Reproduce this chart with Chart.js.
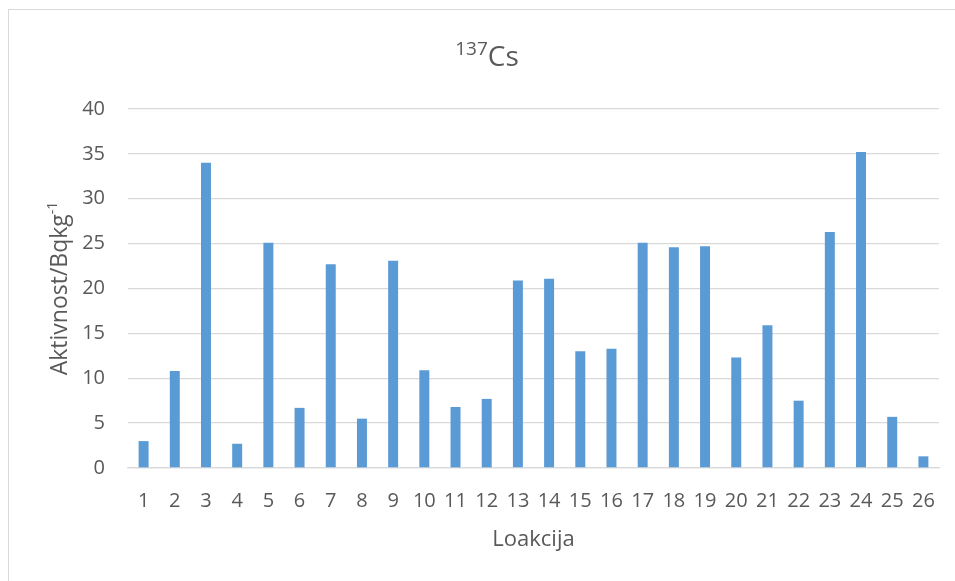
<!DOCTYPE html>
<html>
<head>
<meta charset="utf-8">
<script src="https://cdn.jsdelivr.net/npm/chart.js@4.4.1/dist/chart.umd.min.js"></script>
<style>
    html, body { margin: 0; padding: 0; background: #fff; }
    #wrap { position: relative; width: 955px; height: 581px; }
</style>
</head>
<body>
<div id="wrap"><canvas id="chartCs"></canvas></div>
<script>
// Data
const locations = ['1', '2', '3', '4', '5', '6', '7', '8', '9', '10', '11', '12', '13',
    '14', '15', '16', '17', '18', '19', '20', '21', '22', '23', '24', '25', '26'];
const activity = [3.0, 10.8, 34.0, 2.7, 25.1, 6.7, 22.7, 5.5, 23.1, 10.9, 6.8, 7.7, 20.9,
    21.1, 13.0, 13.3, 25.1, 24.6, 24.7, 12.3, 15.9, 7.5, 26.3, 35.2, 5.7, 1.3];
const yTicks = [0, 5, 10, 15, 20, 25, 30, 35, 40];

const textColor = '#595959';
const gridColor = '#d9d9d9';
const fontName = "'Open Sans', sans-serif";

// Draw the frame, the title and the axis titles (they carry superscripts)
const decorations = {
    id: 'decorations',
    beforeDraw: (chart) => {
        const ctx = chart.ctx;
        ctx.save();
        ctx.fillStyle = '#ffffff';
        ctx.fillRect(0, 0, chart.width, chart.height);
        ctx.strokeStyle = gridColor;
        ctx.lineWidth = 1;
        ctx.strokeRect(8.5, 9.5, 2000, 2000);
        ctx.restore();
    },
    afterDraw: (chart) => {
        const ctx = chart.ctx;
        const area = chart.chartArea;
        ctx.save();
        ctx.fillStyle = textColor;
        ctx.textBaseline = 'alphabetic';

        // title: 137Cs
        const supFont = '19px ' + fontName;
        const mainFont = '28px ' + fontName;
        ctx.font = supFont;
        const wSup = ctx.measureText('137').width;
        ctx.font = mainFont;
        const wMain = ctx.measureText('Cs').width;
        let x = 487 - (wSup + wMain) / 2;
        ctx.textAlign = 'left';
        ctx.font = supFont;
        ctx.fillText('137', x, 55);
        ctx.font = mainFont;
        ctx.fillText('Cs', x + wSup, 66);

        // x axis title
        ctx.font = '22px ' + fontName;
        ctx.textAlign = 'center';
        ctx.fillText('Loakcija', (area.left + area.right) / 2, 546);

        // y axis title, rotated
        ctx.translate(67, (area.top + area.bottom) / 2);
        ctx.rotate(-Math.PI / 2);
        const yFont = '23px ' + fontName;
        const ySupFont = '14px ' + fontName;
        ctx.font = yFont;
        const wy = ctx.measureText('Aktivnost/Bqkg').width;
        ctx.font = ySupFont;
        const wys = ctx.measureText('-1').width;
        let sx = -(wy + wys) / 2;
        ctx.textAlign = 'left';
        ctx.font = yFont;
        ctx.fillText('Aktivnost/Bqkg', sx, 0);
        ctx.font = ySupFont;
        ctx.fillText('-1', sx + wy, -10);
        ctx.restore();
    }
};

const dataCs = {
    labels: locations,
    datasets: [{
        label: '137Cs',
        data: activity,
        backgroundColor: '#5b9bd5',
        borderWidth: 0,
        categoryPercentage: 1.0,
        barPercentage: 0.32
    }]
};

const configCs = {
    type: 'bar',
    data: dataCs,
    options: {
        responsive: false,
        animation: false,
        layout: {
            padding: { left: 0, right: 16, top: 109, bottom: 0 }
        },
        plugins: {
            legend: { display: false },
            title: { display: false },
            tooltip: { enabled: false }
        },
        scales: {
            x: {
                grid: { display: false },
                border: { display: true, color: gridColor, width: 1.3 },
                ticks: {
                    color: textColor,
                    font: { family: fontName, size: 20 },
                    maxRotation: 0,
                    autoSkip: false,
                    padding: 13
                },
                afterFit: (scale) => { scale.height = 113; }
            },
            y: {
                min: 0,
                max: 40,
                grid: { color: gridColor, lineWidth: 1.3, drawTicks: false },
                border: { display: false },
                ticks: {
                    color: textColor,
                    font: { family: fontName, size: 20 },
                    stepSize: 5,
                    padding: 23
                },
                afterBuildTicks: (scale) => {
                    scale.ticks = yTicks.map(v => ({ value: v }));
                },
                afterFit: (scale) => { scale.width = 128; }
            }
        }
    },
    plugins: [decorations]
};

const canvas = document.getElementById('chartCs');
canvas.width = 955;
canvas.height = 581;
let chartCs = new Chart(canvas, configCs);
</script>
</body>
</html>
